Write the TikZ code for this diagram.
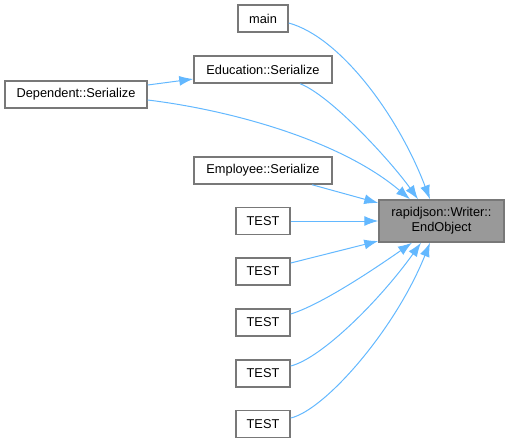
\documentclass[tikz,border=0pt]{standalone}
\usepackage{fontspec}
\setmainfont{Liberation Sans}
\usetikzlibrary{arrows.meta,calc}
\definecolor{edgeblue}{RGB}{99,184,255}
\definecolor{boxgray}{RGB}{120,120,120}
\definecolor{fillgray}{RGB}{153,153,153}
\begin{document}
\begin{tikzpicture}[x=0.75pt,y=-0.75pt,
  box/.style={draw=boxgray,line width=1.1pt,fill=white,inner sep=0pt,minimum height=20.25pt,font=\fontsize{9.6pt}{11pt}\selectfont,text=black},
  hl/.style={box,fill=fillgray,align=center},
  conn/.style={draw=edgeblue,line width=0.75pt,-{Latex[length=10.5pt,width=7.5pt]}}]
\useasboundingbox (0,0) rectangle (510,443);
\node[hl,minimum width=93.75pt,minimum height=31.5pt] (eo) at (441.5,221) {rapidjson::Writer::\\EndObject};
\node[box,minimum width=37.5pt] (main) at (263,18.5) {main};
\node[box,minimum width=103.5pt] (edu) at (263,69.5) {Education::Serialize};
\node[box,minimum width=106.5pt] (dep) at (76,94.5) {Dependent::Serialize};
\node[box,minimum width=103.5pt] (emp) at (263,170.5) {Employee::Serialize};
\node[box,minimum width=40.5pt] (t1) at (263,221) {TEST};
\node[box,minimum width=40.5pt] (t2) at (263,271.5) {TEST};
\node[box,minimum width=40.5pt] (t3) at (263,322.5) {TEST};
\node[box,minimum width=40.5pt] (t4) at (263,373.5) {TEST};
\node[box,minimum width=40.5pt] (t5) at (263,424) {TEST};
\draw[conn] ($(main.east)+(0,4.5)$) .. controls (340,37) and (398,115) .. ($(eo.north)+(-11.5,0)$);
\draw[conn] ($(edu.south)+(37,0)$) .. controls (330,95) and (390,160) .. ($(eo.north)+(-23.5,0)$);
\draw[conn] ($(dep.east)+(0,5.5)$) .. controls (230,110) and (340,140) .. ($(eo.north)+(-31.5,0)$);
\draw[conn] ($(dep.east)+(0,-9.5)$) -- ($(edu.west)+(0,9.5)$);
\draw[conn] ($(emp.south)+(49,0)$) -- ($(eo.west)+(0,-18)$);
\draw[conn] (t1.east) -- (eo.west);
\draw[conn] ($(t2.east)+(0,-8.5)$) -- ($(eo.west)+(0,20)$);
\draw[conn] ($(t3.east)+(0,-8.5)$) .. controls (320,305) and (370,272) .. ($(eo.south)+(-29.5,0)$);
\draw[conn] ($(t4.east)+(0,-7.5)$) .. controls (322,358) and (380,300) .. ($(eo.south)+(-20.5,0)$);
\draw[conn] ($(t5.east)+(0,-6)$) .. controls (325,410) and (395,330) .. ($(eo.south)+(-11.5,0)$);
\end{tikzpicture}
\end{document}
